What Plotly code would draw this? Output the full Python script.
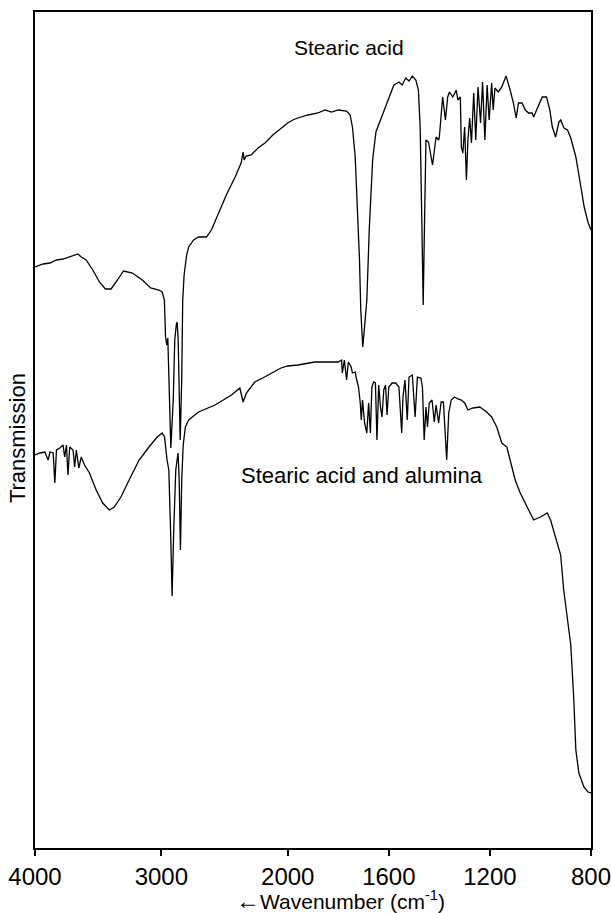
import plotly.graph_objects as go

# Wavenumber (cm^-1) and transmission (arbitrary units)
stearic_wn = [4000, 3935, 3882, 3830, 3778, 3725, 3660, 3634, 3595, 3543, 3490, 3443, 3398, 3347, 3300,
              3229, 3151, 3085, 3020, 2994, 2976, 2967, 2957, 2949, 2941, 2925, 2906, 2894, 2882, 2875,
              2867, 2851, 2839, 2831, 2820, 2800, 2784, 2745, 2706, 2643, 2604, 2549, 2486, 2416, 2369,
              2353, 2345, 2329, 2290, 2235, 2180, 2118, 2024, 2000, 1980, 1960, 1920, 1880, 1853, 1827,
              1800, 1767, 1753, 1744, 1733, 1723, 1716, 1711, 1703, 1696, 1687, 1677, 1664, 1651, 1633,
              1613, 1600, 1580, 1560, 1547, 1533, 1520, 1507, 1493, 1483, 1476, 1469, 1464, 1459, 1453,
              1443, 1427, 1413, 1403, 1400, 1387, 1376, 1367, 1360, 1347, 1333, 1327, 1317, 1313, 1307,
              1300, 1293, 1287, 1280, 1273, 1264, 1256, 1247, 1237, 1229, 1220, 1211, 1203, 1193, 1187,
              1180, 1167, 1153, 1136, 1120, 1107, 1096, 1087, 1073, 1060, 1047, 1033, 1027, 1013, 993,
              976, 963, 953, 940, 927, 920, 907, 893, 880, 860, 840, 827, 811, 800]
stearic_t = [581, 584, 585, 588, 589, 591, 594, 591, 588, 578, 566, 559, 559, 568, 577,
             575, 568, 560, 558, 556, 548, 511, 503, 510, 468, 400, 448, 508, 523, 526,
             508, 408, 468, 548, 573, 593, 601, 608, 611, 611, 618, 635, 653, 671, 685,
             696, 688, 692, 693, 700, 705, 713, 723, 725, 728, 730, 733, 735, 738, 736,
             738, 737, 733, 721, 691, 638, 588, 538, 501, 521, 548, 621, 688, 716, 728,
             741, 751, 763, 766, 763, 770, 767, 772, 768, 758, 721, 621, 543, 621, 708,
             706, 683, 711, 708, 711, 751, 728, 751, 756, 751, 758, 748, 751, 701, 695,
             721, 668, 708, 730, 705, 755, 708, 761, 725, 766, 708, 763, 728, 765, 738,
             760, 756, 761, 772, 758, 745, 730, 745, 745, 738, 735, 735, 731, 740, 751,
             751, 738, 721, 711, 726, 728, 720, 718, 710, 691, 661, 641, 625, 618]

alumina_wn = [4000, 3961, 3922, 3896, 3882, 3856, 3843, 3830, 3804, 3778, 3765, 3751, 3739, 3725, 3699,
              3686, 3673, 3653, 3634, 3608, 3569, 3516, 3464, 3412, 3373, 3320, 3255, 3176, 3098, 3033,
              2994, 2975, 2955, 2941, 2925, 2915, 2902, 2886, 2868, 2859, 2849, 2839, 2827, 2810, 2784,
              2758, 2706, 2575, 2445, 2379, 2353, 2327, 2261, 2183, 2053, 2000, 1960, 1893, 1800, 1787,
              1784, 1776, 1767, 1760, 1749, 1744, 1733, 1727, 1720, 1713, 1709, 1704, 1696, 1687, 1680,
              1673, 1667, 1660, 1653, 1647, 1640, 1633, 1627, 1620, 1613, 1607, 1600, 1587, 1573, 1560,
              1553, 1549, 1544, 1536, 1527, 1520, 1507, 1496, 1487, 1473, 1467, 1460, 1453, 1447, 1440,
              1429, 1420, 1413, 1403, 1393, 1384, 1376, 1371, 1363, 1353, 1340, 1327, 1313, 1300, 1287,
              1267, 1240, 1213, 1193, 1173, 1153, 1133, 1120, 1100, 1080, 1053, 1027, 1000, 973, 960,
              940, 920, 908, 892, 880, 868, 860, 848, 828, 812, 800]
alumina_t = [393, 395, 396, 388, 396, 395, 365, 398, 400, 403, 391, 403, 373, 401, 398,
             381, 398, 380, 391, 383, 375, 358, 345, 338, 341, 351, 368, 388, 401, 411,
             415, 411, 388, 378, 308, 252, 318, 378, 395, 368, 298, 368, 403, 421, 428,
             431, 436, 443, 453, 460, 446, 455, 466, 471, 480, 482, 483, 486, 486, 488,
             475, 488, 468, 486, 481, 475, 476, 468, 461, 445, 428, 448, 425, 415, 445,
             415, 461, 466, 465, 408, 463, 441, 431, 458, 463, 433, 461, 465, 465, 461,
             435, 415, 451, 468, 428, 471, 473, 431, 471, 470, 461, 408, 441, 421, 445,
             448, 426, 443, 425, 446, 446, 408, 388, 435, 448, 451, 449, 448, 445, 438,
             440, 441, 436, 431, 421, 405, 401, 388, 368, 355, 341, 328, 331, 335, 328,
             311, 293, 258, 228, 203, 148, 98, 75, 61, 56, 55]

tick_wn = [4000, 3000, 2000, 1600, 1200, 800]
tick_text = ["4000", "3000", "2000", "1600", "1200", "800"]


def to_axis(w):
    # spectrometer chart: scale doubles below 2000 cm^-1
    return (4000 - w) / 1000 if w >= 2000 else 2 + (2000 - w) / 500


FONT = "Liberation Sans, Arial, Helvetica, sans-serif"

fig = go.Figure()
fig.add_trace(go.Scatter(x=[to_axis(w) for w in stearic_wn], y=stearic_t, mode="lines",
                         line=dict(color="black", width=1.3), showlegend=False))
fig.add_trace(go.Scatter(x=[to_axis(w) for w in alumina_wn], y=alumina_t, mode="lines",
                         line=dict(color="black", width=1.3), showlegend=False))

fig.update_layout(
    width=611, height=913,
    margin=dict(l=35, r=20, t=12, b=65, autoexpand=False),
    paper_bgcolor="white", plot_bgcolor="white",
    font=dict(family=FONT, color="black", size=22),
    xaxis=dict(range=[0, 4.4], tickvals=[to_axis(w) for w in tick_wn], ticktext=tick_text,
               showgrid=False, zeroline=False, showline=True, linecolor="black", linewidth=2,
               mirror=True, ticks="outside", ticklen=6, tickwidth=1.5, tickcolor="black",
               ticklabeloverflow="allow", automargin=False,
               tickfont=dict(size=24, family=FONT)),
    yaxis=dict(range=[0, 836], showticklabels=False, showgrid=False, zeroline=False,
               showline=True, linecolor="black", linewidth=2, mirror=True, ticks="",
               automargin=False),
    annotations=[
        dict(text="Stearic acid", xref="paper", yref="paper", x=0.565, y=0.958,
             xanchor="center", yanchor="middle",
             showarrow=False, font=dict(size=21, family=FONT)),
        dict(text="Stearic acid and alumina", xref="paper", yref="paper", x=0.588, y=0.445,
             xanchor="center", yanchor="middle",
             showarrow=False, font=dict(size=22, family=FONT)),
        dict(text="Transmission", xref="paper", yref="paper", x=-0.031, y=0.49, textangle=-90,
             xanchor="center", yanchor="middle",
             showarrow=False, font=dict(size=22, family=FONT)),
        dict(text="<span style='font-size:24px'>\u2190</span>Wavenumber (cm<sup>-1</sup>)",
             xref="paper", yref="paper", x=0.549, y=-0.063,
             xanchor="center", yanchor="middle",
             showarrow=False, font=dict(size=21, family=FONT)),
    ],
)

fig.write_html("out.html")
